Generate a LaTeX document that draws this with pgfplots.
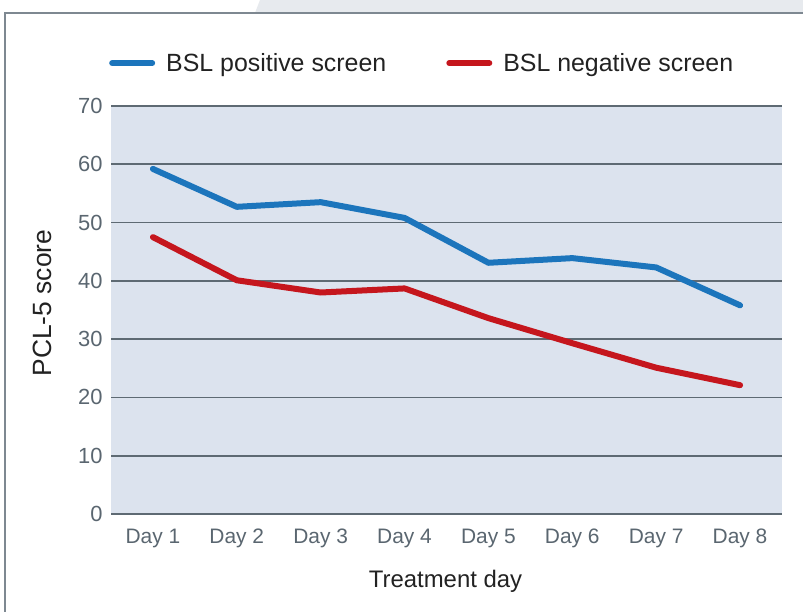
\documentclass[border=0pt]{standalone}
\usepackage{fontspec}
\setmainfont{Liberation Sans}
\usepackage{pgfplots}
\pgfplotsset{compat=1.18}
\definecolor{bsblue}{HTML}{1C75BC}
\definecolor{bsred}{HTML}{C5161D}
\definecolor{bgblue}{HTML}{DCE3EE}
\definecolor{gridgrey}{HTML}{5E6A73}
\definecolor{ticktext}{HTML}{5A6670}
\definecolor{frameline}{HTML}{7E8891}
\definecolor{framefill}{HTML}{E7EAEE}
\definecolor{darktext}{HTML}{222222}
\begin{document}
\begin{tikzpicture}[x=1bp,y=1bp]
\useasboundingbox (0,0) rectangle (803,612);
\fill[white] (0,0) rectangle (803,612);
\fill[framefill] (260,612) -- (255,599) -- (803,599) -- (803,612) -- cycle;
\draw[frameline, line width=1.5bp] (5,-5) -- (5,599) -- (810,599);
\begin{axis}[
  at={(111bp,98bp)}, anchor=south west,
  scale only axis, width=671bp, height=408bp,
  xmin=-0.5, xmax=7.5, ymin=0, ymax=70,
  ytick={0,10,...,70},
  xtick={0,...,7},
  xticklabels={Day 1,Day 2,Day 3,Day 4,Day 5,Day 6,Day 7,Day 8},
  axis background/.style={fill=bgblue},
  axis line style={draw=none},
  major tick length=0pt,
  ymajorgrids,
  grid style={gridgrey, line width=1.8bp},
  /pgf/number format/assume math mode=true,
  yticklabel style={font=\fontsize{22}{26}\selectfont, text=ticktext, anchor=east, xshift=-5bp},
  xticklabel style={font=\fontsize{21}{25}\selectfont, text=ticktext, anchor=base, yshift=-30bp},
  xlabel={Treatment day},
  xlabel style={font=\fontsize{24}{28}\selectfont, text=darktext, at={(axis description cs:0.4985,-0.179)}, anchor=base},
  ylabel={PCL-5 score},
  ylabel style={font=\fontsize{26.5}{30}\selectfont, text=darktext, at={(axis description cs:-0.088,0.517)}, anchor=base},
  legend columns=2,
  legend style={draw=none, fill=none, at={(axis description cs:-0.003,1.105)}, anchor=west,
    font=\fontsize{25}{30}\selectfont, text=darktext, inner sep=0pt,
    nodes={inner sep=0pt},
    /tikz/every odd column/.append style={column sep=11bp},
    /tikz/every even column/.append style={column sep=60bp}},
  legend cell align=left,
  legend image code/.code={\draw[#1, line width=6bp, line cap=round] (0bp,0bp) -- (40bp,0bp);},
  every axis plot/.append style={line width=6bp, line cap=round, line join=round},
]
\addplot[bsblue, mark=none] coordinates {(0,59.2) (1,52.7) (2,53.5) (3,50.8) (4,43.1) (5,43.9) (6,42.3) (7,35.8)};
\addlegendentry{BSL positive screen}
\addplot[bsred, mark=none] coordinates {(0,47.5) (1,40.1) (2,38.0) (3,38.7) (4,33.6) (5,29.3) (6,25.1) (7,22.1)};
\addlegendentry{BSL negative screen}
\end{axis}
\end{tikzpicture}
\end{document}
